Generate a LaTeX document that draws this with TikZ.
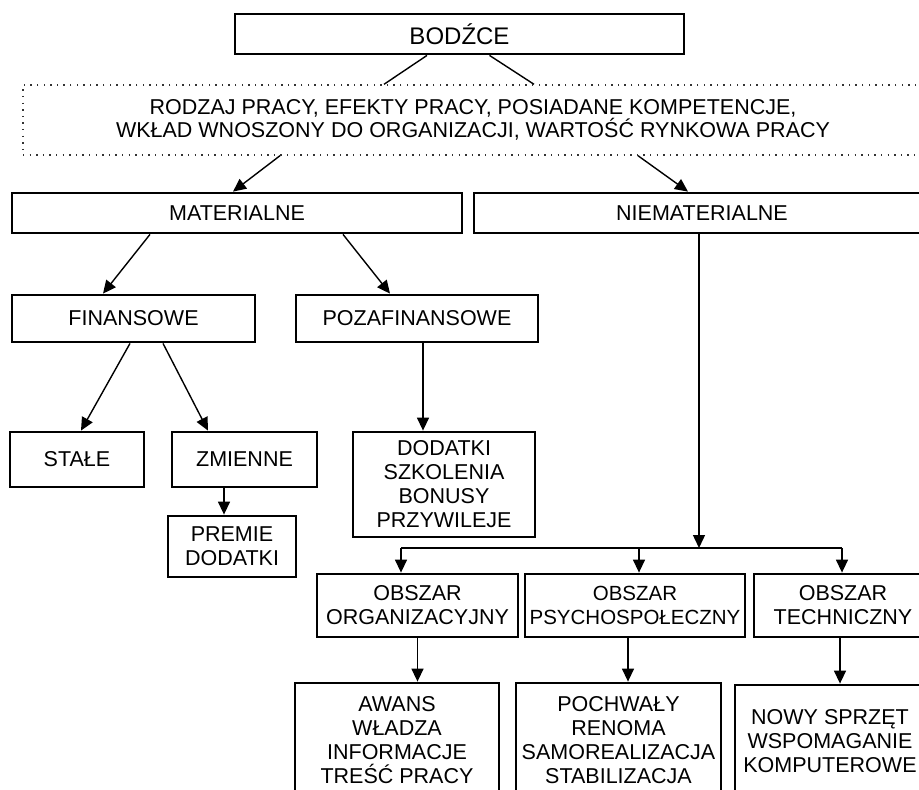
\documentclass[tikz,border=0pt]{standalone}
\usepackage{fontspec}
\setmainfont{Liberation Sans}
\usetikzlibrary{arrows.meta, positioning}

\tikzset{
  pole/.style={draw, line width=2.8pt, inner sep=0pt, align=center, font=\fontsize{21.5}{24}\selectfont},
  kropki/.style={draw=black!80, line width=1.4pt, dash pattern=on 1.4pt off 5.2pt, inner sep=0pt, align=center, font=\fontsize{21.5}{23}\selectfont},
  strzalka/.style={-{Triangle[length=13pt, width=12pt]}, line width=1.4pt},
  linia/.style={line width=1.4pt}
}

\begin{document}
\begin{tikzpicture}[x=1pt, y=-1pt]
  \useasboundingbox (0,0) rectangle (919,790);
  \clip (0,0) rectangle (919,790);
  \fill[white] (0,0) rectangle (919,790);

  % Level 0
  \node[pole, minimum width=449pt, minimum height=40pt, font=\fontsize{24}{28}\selectfont] (bodzce) at (459.5,34) {BODŹCE};
  \node[kropki, minimum width=900pt, minimum height=70pt] (kryteria) at (473,120) {RODZAJ PRACY, EFEKTY PRACY, POSIADANE KOMPETENCJE,\\WKŁAD WNOSZONY DO ORGANIZACJI, WARTOŚĆ RYNKOWA PRACY};

  \draw[linia] ([xshift=-32.5pt]bodzce.south) -- ([xshift=-89pt]kryteria.north);
  \draw[linia] ([xshift=30pt]bodzce.south) -- ([xshift=61pt]kryteria.north);

  % Level 1
  \node[pole, minimum width=450pt, minimum height=40pt] (materialne) at (237,213) {MATERIALNE};
  \node[pole, minimum width=456pt, minimum height=40pt] (niematerialne) at (702,213) {NIEMATERIALNE};

  \draw[strzalka] ([xshift=-193pt]kryteria.south) -- ([xshift=-4pt]materialne.north);
  \draw[strzalka] ([xshift=165pt]kryteria.south) -- ([xshift=-14pt]niematerialne.north);

  % Material branch
  \node[pole, minimum width=243pt, minimum height=47pt] (finansowe) at (133.5,318.5) {FINANSOWE};
  \node[pole, minimum width=242pt, minimum height=47pt] (pozafinansowe) at (417,318.5) {POZAFINANSOWE};
  \node[pole, minimum width=134pt, minimum height=55pt] (stale) at (77,459.5) {STAŁE};
  \node[pole, minimum width=145pt, minimum height=55pt] (zmienne) at (244.5,459.5) {ZMIENNE};
  \node[pole, minimum width=128pt, minimum height=61pt] (premie) at (232,546.5) {PREMIE\\DODATKI};
  \node[pole, minimum width=182pt, minimum height=105pt] (dodatki) at (444,484.5) {DODATKI\\SZKOLENIA\\BONUSY\\PRZYWILEJE};

  \draw[strzalka] ([xshift=-87pt]materialne.south) -- ([xshift=-30.5pt]finansowe.north);
  \draw[strzalka] ([xshift=106pt]materialne.south) -- ([xshift=-27pt]pozafinansowe.north);
  \draw[strzalka] ([xshift=-3.5pt]finansowe.south) -- ([xshift=4pt]stale.north);
  \draw[strzalka] ([xshift=29.5pt]finansowe.south) -- ([xshift=-36.5pt]zmienne.north);
  \draw[strzalka] ([xshift=6pt]pozafinansowe.south) -- ([xshift=6pt]pozafinansowe.south |- dodatki.north);
  \draw[strzalka] ([xshift=-20.5pt]zmienne.south) -- ([xshift=-20.5pt]zmienne.south |- premie.north);

  % Non-material branch
  \node[pole, minimum width=201pt, minimum height=63pt] (organiz) at (417.5,605.5) {OBSZAR\\ORGANIZACYJNY};
  \node[pole, minimum width=220pt, minimum height=63pt, font=\fontsize{20.5}{24}\selectfont] (psycho) at (635,605.5) {OBSZAR\\PSYCHOSPOŁECZNY};
  \node[pole, minimum width=178pt, minimum height=63pt] (techn) at (843,605.5) {OBSZAR\\TECHNICZNY};
  \node[pole, minimum width=204pt, minimum height=114pt] (awans) at (397,740) {AWANS\\WŁADZA\\INFORMACJE\\TREŚĆ PRACY};
  \node[pole, minimum width=205pt, minimum height=114pt] (pochwaly) at (618.5,740) {POCHWAŁY\\RENOMA\\SAMOREALIZACJA\\STABILIZACJA};
  \node[pole, minimum width=190pt, minimum height=112pt] (sprzet) at (830,741) {NOWY SPRZĘT\\WSPOMAGANIE\\KOMPUTEROWE};

  \coordinate (rozgal) at (699,548);
  \coordinate (rozL) at (401,548);
  \coordinate (rozP) at (842,548);

  \draw[strzalka] ([xshift=-3pt]niematerialne.south) -- (rozgal);
  \draw[linia] (rozL) -- (rozP);
  \draw[strzalka] (rozL) -- (rozL |- organiz.north);
  \draw[strzalka] ([xshift=4pt]psycho.north |- rozL) -- ([xshift=4pt]psycho.north);
  \draw[strzalka] (rozP) -- (rozP |- techn.north);

  \draw[strzalka] (organiz.south) -- (organiz.south |- awans.north);
  \draw[strzalka] ([xshift=-7pt]psycho.south) -- ([xshift=-7pt]psycho.south |- pochwaly.north);
  \draw[strzalka] ([xshift=-3pt]techn.south) -- ([xshift=-3pt]techn.south |- sprzet.north);
\end{tikzpicture}
\end{document}
